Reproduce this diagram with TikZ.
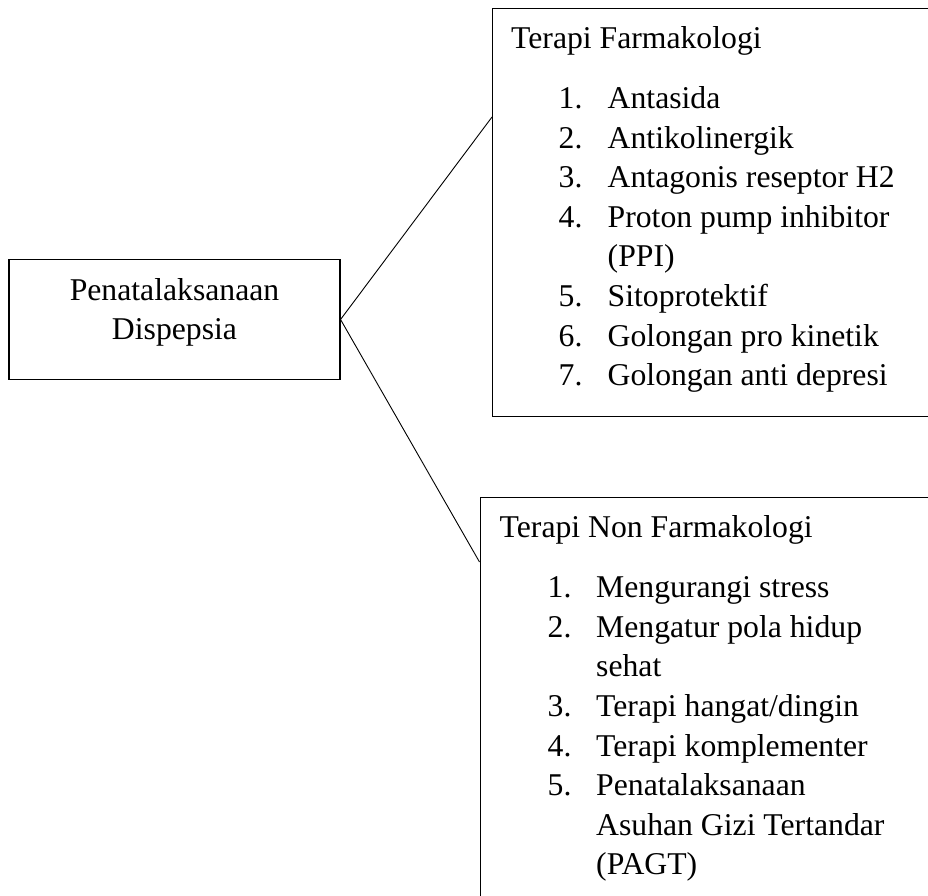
\documentclass[tikz,border=0pt]{standalone}
\usepackage{fontspec}
\setmainfont{Liberation Serif}
\tikzset{box/.style={rectangle, draw, line width=1.1pt, inner sep=0pt},
  con/.style={line width=0.9pt},
  txt/.style={anchor=base west, inner sep=0pt}}

\begin{document}
\begin{tikzpicture}[x=1pt,y=-1pt,font=\fontsize{31.7pt}{39.6pt}\selectfont]
    \useasboundingbox (0,0) rectangle (928,895);
    \clip (0,0) rectangle (928,895);
    % main box
    \node[box, minimum width=331pt, minimum height=120pt] (pnt) at (174.5,319.5)
      {\raisebox{7.6pt}[\height][\depth]{\begin{tabular}{@{}c@{}}Penatalaksanaan\\Dispepsia\end{tabular}}};
    % terapi farmakologi
    \node[box, anchor=north west, minimum width=460pt, minimum height=408.5pt] (farm) at (492,7.5) {};
    \node[txt] (farmhead) at (511,48) {Terapi Farmakologi};
    \foreach \num/\entry [count=\i] in {1./Antasida, 2./Antikolinergik, 3./Antagonis reseptor H2,
        4./Proton pump inhibitor, /(PPI), 5./Sitoprotektif, 6./Golongan pro kinetik, 7./Golongan anti depresi} {
      \node[txt] (fn\i) at (558.5,{108.5+39.6*(\i-1)}) {\num};
      \node[txt] (fi\i) at (607.5,{108.5+39.6*(\i-1)}) {\entry};
    }
    % terapi non farmakologi
    \node[box, anchor=north west, minimum width=470pt, minimum height=420pt] (non) at (479.5,497) {};
    \node[txt] (nonhead) at (499.5,537) {Terapi Non Farmakologi};
    \foreach \num/\entry [count=\i] in {1./Mengurangi stress, 2./Mengatur pola hidup, /sehat,
        3./{Terapi hangat/dingin}, 4./Terapi komplementer, 5./Penatalaksanaan, /Asuhan Gizi Tertandar, /(PAGT)} {
      \node[txt] (nn\i) at (547.5,{597.7+39.6*(\i-1)}) {\num};
      \node[txt] (ni\i) at (596,{597.7+39.6*(\i-1)}) {\entry};
    }
    % connectors
    \coordinate (farmin) at ([yshift=-109.5pt]farm.north west);
    \coordinate (nonin) at ([yshift=-65pt]non.north west);
    \draw[con] (pnt.east) -- (farmin);
    \draw[con] (pnt.east) -- (nonin);
  \end{tikzpicture}
\end{document}
